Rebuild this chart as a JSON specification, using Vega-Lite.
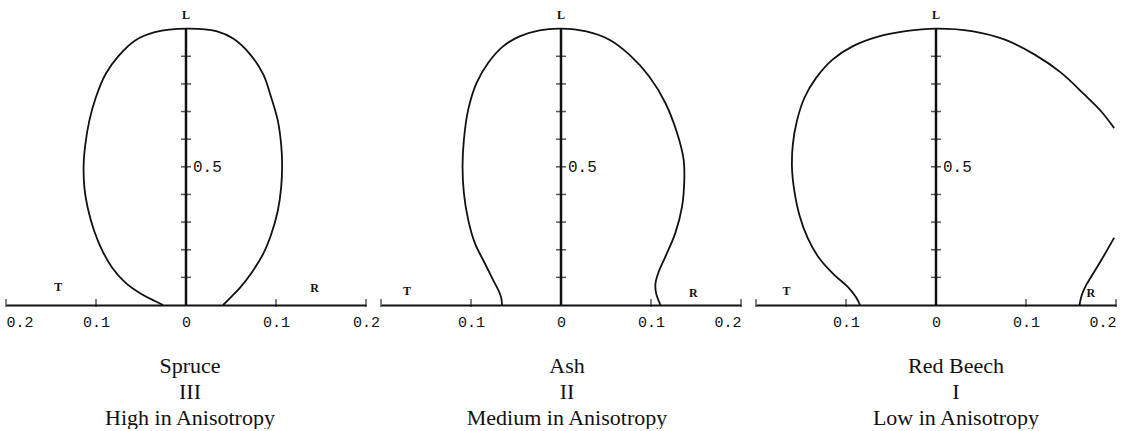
{
  "$schema": "https://vega.github.io/schema/vega-lite/v6.json",
  "background": "white",
  "padding": {"left": 5, "top": 1, "right": 0, "bottom": 0},
  "bounds": "flush",
  "spacing": 15,
  "config": {
    "view": {"stroke": null},
    "title": {"font": "Liberation Serif", "fontSize": 22, "fontWeight": "normal", "color": "#111", "lineHeight": 26, "orient": "bottom", "anchor": "middle", "offset": 27},
    "axis": {"grid": false, "title": null}
  },
  "datasets": {
    "curves": [
      {"wood": "Spruce", "seg": 1, "i": 0, "x": -0.0255, "y": 0},
      {"wood": "Spruce", "seg": 1, "i": 1, "x": -0.0346, "y": 0.0145},
      {"wood": "Spruce", "seg": 1, "i": 2, "x": -0.0492, "y": 0.039},
      {"wood": "Spruce", "seg": 1, "i": 3, "x": -0.0674, "y": 0.081},
      {"wood": "Spruce", "seg": 1, "i": 4, "x": -0.082, "y": 0.135},
      {"wood": "Spruce", "seg": 1, "i": 5, "x": -0.0929, "y": 0.196},
      {"wood": "Spruce", "seg": 1, "i": 6, "x": -0.102, "y": 0.268},
      {"wood": "Spruce", "seg": 1, "i": 7, "x": -0.1093, "y": 0.353},
      {"wood": "Spruce", "seg": 1, "i": 8, "x": -0.1129, "y": 0.425},
      {"wood": "Spruce", "seg": 1, "i": 9, "x": -0.1137, "y": 0.51},
      {"wood": "Spruce", "seg": 1, "i": 10, "x": -0.1118, "y": 0.582},
      {"wood": "Spruce", "seg": 1, "i": 11, "x": -0.1074, "y": 0.667},
      {"wood": "Spruce", "seg": 1, "i": 12, "x": -0.1002, "y": 0.751},
      {"wood": "Spruce", "seg": 1, "i": 13, "x": -0.0893, "y": 0.836},
      {"wood": "Spruce", "seg": 1, "i": 14, "x": -0.0746, "y": 0.902},
      {"wood": "Spruce", "seg": 1, "i": 15, "x": -0.0565, "y": 0.957},
      {"wood": "Spruce", "seg": 1, "i": 16, "x": -0.0346, "y": 0.987},
      {"wood": "Spruce", "seg": 1, "i": 17, "x": 0.001, "y": 1.0},
      {"wood": "Spruce", "seg": 1, "i": 18, "x": 0.0346, "y": 0.99},
      {"wood": "Spruce", "seg": 1, "i": 19, "x": 0.0528, "y": 0.963},
      {"wood": "Spruce", "seg": 1, "i": 20, "x": 0.071, "y": 0.908},
      {"wood": "Spruce", "seg": 1, "i": 21, "x": 0.0856, "y": 0.836},
      {"wood": "Spruce", "seg": 1, "i": 22, "x": 0.0947, "y": 0.751},
      {"wood": "Spruce", "seg": 1, "i": 23, "x": 0.102, "y": 0.667},
      {"wood": "Spruce", "seg": 1, "i": 24, "x": 0.1057, "y": 0.582},
      {"wood": "Spruce", "seg": 1, "i": 25, "x": 0.1068, "y": 0.51},
      {"wood": "Spruce", "seg": 1, "i": 26, "x": 0.1057, "y": 0.425},
      {"wood": "Spruce", "seg": 1, "i": 27, "x": 0.102, "y": 0.341},
      {"wood": "Spruce", "seg": 1, "i": 28, "x": 0.0947, "y": 0.256},
      {"wood": "Spruce", "seg": 1, "i": 29, "x": 0.0856, "y": 0.184},
      {"wood": "Spruce", "seg": 1, "i": 30, "x": 0.0729, "y": 0.117},
      {"wood": "Spruce", "seg": 1, "i": 31, "x": 0.0601, "y": 0.063},
      {"wood": "Spruce", "seg": 1, "i": 32, "x": 0.0492, "y": 0.026},
      {"wood": "Spruce", "seg": 1, "i": 33, "x": 0.0412, "y": 0},

      {"wood": "Ash", "seg": 1, "i": 0, "x": -0.0655, "y": 0},
      {"wood": "Ash", "seg": 1, "i": 1, "x": -0.0663, "y": 0.024},
      {"wood": "Ash", "seg": 1, "i": 2, "x": -0.0688, "y": 0.048},
      {"wood": "Ash", "seg": 1, "i": 3, "x": -0.0755, "y": 0.0906},
      {"wood": "Ash", "seg": 1, "i": 4, "x": -0.0847, "y": 0.151},
      {"wood": "Ash", "seg": 1, "i": 5, "x": -0.0957, "y": 0.224},
      {"wood": "Ash", "seg": 1, "i": 6, "x": -0.1031, "y": 0.308},
      {"wood": "Ash", "seg": 1, "i": 7, "x": -0.1079, "y": 0.405},
      {"wood": "Ash", "seg": 1, "i": 8, "x": -0.1094, "y": 0.501},
      {"wood": "Ash", "seg": 1, "i": 9, "x": -0.1079, "y": 0.598},
      {"wood": "Ash", "seg": 1, "i": 10, "x": -0.1031, "y": 0.707},
      {"wood": "Ash", "seg": 1, "i": 11, "x": -0.0939, "y": 0.803},
      {"wood": "Ash", "seg": 1, "i": 12, "x": -0.081, "y": 0.876},
      {"wood": "Ash", "seg": 1, "i": 13, "x": -0.0644, "y": 0.936},
      {"wood": "Ash", "seg": 1, "i": 14, "x": -0.046, "y": 0.972},
      {"wood": "Ash", "seg": 1, "i": 15, "x": -0.0239, "y": 0.994},
      {"wood": "Ash", "seg": 1, "i": 16, "x": 0.0, "y": 1.0},
      {"wood": "Ash", "seg": 1, "i": 17, "x": 0.0281, "y": 0.99},
      {"wood": "Ash", "seg": 1, "i": 18, "x": 0.0538, "y": 0.96},
      {"wood": "Ash", "seg": 1, "i": 19, "x": 0.0759, "y": 0.906},
      {"wood": "Ash", "seg": 1, "i": 20, "x": 0.098, "y": 0.827},
      {"wood": "Ash", "seg": 1, "i": 21, "x": 0.116, "y": 0.731},
      {"wood": "Ash", "seg": 1, "i": 22, "x": 0.129, "y": 0.622},
      {"wood": "Ash", "seg": 1, "i": 23, "x": 0.1363, "y": 0.525},
      {"wood": "Ash", "seg": 1, "i": 24, "x": 0.137, "y": 0.453},
      {"wood": "Ash", "seg": 1, "i": 25, "x": 0.1345, "y": 0.356},
      {"wood": "Ash", "seg": 1, "i": 26, "x": 0.127, "y": 0.26},
      {"wood": "Ash", "seg": 1, "i": 27, "x": 0.116, "y": 0.175},
      {"wood": "Ash", "seg": 1, "i": 28, "x": 0.1087, "y": 0.121},
      {"wood": "Ash", "seg": 1, "i": 29, "x": 0.105, "y": 0.0786},
      {"wood": "Ash", "seg": 1, "i": 30, "x": 0.1057, "y": 0.042},
      {"wood": "Ash", "seg": 1, "i": 31, "x": 0.1105, "y": 0},

      {"wood": "Red Beech", "seg": 1, "i": 0, "x": -0.0844, "y": 0},
      {"wood": "Red Beech", "seg": 1, "i": 1, "x": -0.0892, "y": 0.03},
      {"wood": "Red Beech", "seg": 1, "i": 2, "x": -0.0983, "y": 0.0667},
      {"wood": "Red Beech", "seg": 1, "i": 3, "x": -0.1131, "y": 0.109},
      {"wood": "Red Beech", "seg": 1, "i": 4, "x": -0.1297, "y": 0.169},
      {"wood": "Red Beech", "seg": 1, "i": 5, "x": -0.1425, "y": 0.242},
      {"wood": "Red Beech", "seg": 1, "i": 6, "x": -0.1518, "y": 0.326},
      {"wood": "Red Beech", "seg": 1, "i": 7, "x": -0.1573, "y": 0.411},
      {"wood": "Red Beech", "seg": 1, "i": 8, "x": -0.16, "y": 0.495},
      {"wood": "Red Beech", "seg": 1, "i": 9, "x": -0.1591, "y": 0.58},
      {"wood": "Red Beech", "seg": 1, "i": 10, "x": -0.1547, "y": 0.664},
      {"wood": "Red Beech", "seg": 1, "i": 11, "x": -0.1463, "y": 0.749},
      {"wood": "Red Beech", "seg": 1, "i": 12, "x": -0.1334, "y": 0.821},
      {"wood": "Red Beech", "seg": 1, "i": 13, "x": -0.115, "y": 0.888},
      {"wood": "Red Beech", "seg": 1, "i": 14, "x": -0.0928, "y": 0.936},
      {"wood": "Red Beech", "seg": 1, "i": 15, "x": -0.0634, "y": 0.972},
      {"wood": "Red Beech", "seg": 1, "i": 16, "x": -0.0339, "y": 0.991},
      {"wood": "Red Beech", "seg": 1, "i": 17, "x": 0.0, "y": 1.0},
      {"wood": "Red Beech", "seg": 1, "i": 18, "x": 0.0398, "y": 0.991},
      {"wood": "Red Beech", "seg": 1, "i": 19, "x": 0.0766, "y": 0.96},
      {"wood": "Red Beech", "seg": 1, "i": 20, "x": 0.1097, "y": 0.906},
      {"wood": "Red Beech", "seg": 1, "i": 21, "x": 0.1392, "y": 0.84},
      {"wood": "Red Beech", "seg": 1, "i": 22, "x": 0.165, "y": 0.761},
      {"wood": "Red Beech", "seg": 1, "i": 23, "x": 0.1834, "y": 0.701},
      {"wood": "Red Beech", "seg": 1, "i": 24, "x": 0.198, "y": 0.64},
      {"wood": "Red Beech", "seg": 2, "i": 0, "x": 0.1594, "y": 0},
      {"wood": "Red Beech", "seg": 2, "i": 1, "x": 0.162, "y": 0.036},
      {"wood": "Red Beech", "seg": 2, "i": 2, "x": 0.1668, "y": 0.072},
      {"wood": "Red Beech", "seg": 2, "i": 3, "x": 0.176, "y": 0.121},
      {"wood": "Red Beech", "seg": 2, "i": 4, "x": 0.187, "y": 0.181},
      {"wood": "Red Beech", "seg": 2, "i": 5, "x": 0.198, "y": 0.244}
    ],
    "stem": [{"x": 0, "y": 0}, {"x": 0, "y": 1}],
    "stemTicks": [
      {"x": 0, "y": 0.1}, {"x": 0, "y": 0.2}, {"x": 0, "y": 0.3}, {"x": 0, "y": 0.4}, {"x": 0, "y": 0.5},
      {"x": 0, "y": 0.6}, {"x": 0, "y": 0.7}, {"x": 0, "y": 0.8}, {"x": 0, "y": 0.9}
    ],
    "baseTicks": [{"x": -0.2, "y": 0}, {"x": -0.1, "y": 0}, {"x": 0.1, "y": 0}, {"x": 0.2, "y": 0}],
    "stemLabels": [{"x": 0, "y": 0.5, "text": "0.5"}],
    "directions": [
      {"wood": "Spruce", "text": "T", "x": -0.142, "y": 0.065},
      {"wood": "Spruce", "text": "R", "x": 0.143, "y": 0.06},
      {"wood": "Spruce", "text": "L", "x": 0.0, "y": 1.05},
      {"wood": "Ash", "text": "T", "x": -0.171, "y": 0.05},
      {"wood": "Ash", "text": "R", "x": 0.147, "y": 0.045},
      {"wood": "Ash", "text": "L", "x": 0.0, "y": 1.05},
      {"wood": "Red Beech", "text": "T", "x": -0.166, "y": 0.05},
      {"wood": "Red Beech", "text": "R", "x": 0.172, "y": 0.043},
      {"wood": "Red Beech", "text": "L", "x": 0.0, "y": 1.05}
    ]
  },
  "hconcat": [
    {
      "width": 360, "height": 304,
      "title": {"text": ["Spruce", "III", "High in Anisotropy"], "dx": 4},
      "encoding": {
        "x": {"field": "x", "type": "quantitative", "scale": {"domain": [-0.2, 0.2], "nice": false},
          "axis": {"values": [-0.2, -0.1, 0, 0.1, 0.2], "labelExpr": "datum.value == 0 ? '0' : format(abs(datum.value), '.1f')",
            "ticks": false, "domainColor": "#111", "domainWidth": 2, "labelFont": "Liberation Mono", "labelFontSize": 15, "labelColor": "#111", "labelPadding": 9,
            "labelAlign": {"condition": {"test": "datum.value < -0.15", "value": "left"}, "value": "center"}}},
        "y": {"field": "y", "type": "quantitative", "scale": {"domain": [0, 1.1], "nice": false}, "axis": null}
      },
      "layer": [
        {"data": {"name": "baseTicks"}, "mark": {"type": "tick", "orient": "vertical", "size": 8, "thickness": 1.5, "color": "#111", "yOffset": -2}},
        {"data": {"name": "stem"}, "mark": {"type": "line", "color": "#111", "strokeWidth": 2.5}},
        {"data": {"name": "stemTicks"}, "mark": {"type": "tick", "orient": "horizontal", "size": 10, "thickness": 1.5, "color": "#111"}},
        {"data": {"name": "stemLabels"}, "mark": {"type": "text", "align": "left", "baseline": "middle", "dx": 7, "font": "Liberation Mono", "fontSize": 16, "color": "#111"}, "encoding": {"text": {"field": "text"}}},
        {"data": {"name": "directions"}, "transform": [{"filter": "datum.wood == 'Spruce'"}], "mark": {"type": "text", "baseline": "middle", "font": "Liberation Serif", "fontSize": 12, "fontWeight": "bold", "color": "#111"}, "encoding": {"text": {"field": "text"}}},
        {"data": {"name": "curves"}, "transform": [{"filter": "datum.wood == 'Spruce'"}], "mark": {"type": "line", "interpolate": "catmull-rom", "color": "#111", "strokeWidth": 1.8}, "encoding": {"order": {"field": "i"}, "detail": {"field": "seg"}}}
      ]
    },
    {
      "width": 360, "height": 304,
      "title": {"text": ["Ash", "II", "Medium in Anisotropy"], "dx": 6},
      "encoding": {
        "x": {"field": "x", "type": "quantitative", "scale": {"domain": [-0.2, 0.2], "nice": false},
          "axis": {"values": [-0.1, 0, 0.1, 0.2], "labelExpr": "datum.value == 0 ? '0' : format(abs(datum.value), '.1f')",
            "ticks": false, "domainColor": "#111", "domainWidth": 2, "labelFont": "Liberation Mono", "labelFontSize": 15, "labelColor": "#111", "labelPadding": 9}},
        "y": {"field": "y", "type": "quantitative", "scale": {"domain": [0, 1.1], "nice": false}, "axis": null}
      },
      "layer": [
        {"data": {"name": "baseTicks"}, "mark": {"type": "tick", "orient": "vertical", "size": 8, "thickness": 1.5, "color": "#111", "yOffset": -2}},
        {"data": {"name": "stem"}, "mark": {"type": "line", "color": "#111", "strokeWidth": 2.5}},
        {"data": {"name": "stemTicks"}, "mark": {"type": "tick", "orient": "horizontal", "size": 10, "thickness": 1.5, "color": "#111"}},
        {"data": {"name": "stemLabels"}, "mark": {"type": "text", "align": "left", "baseline": "middle", "dx": 7, "font": "Liberation Mono", "fontSize": 16, "color": "#111"}, "encoding": {"text": {"field": "text"}}},
        {"data": {"name": "directions"}, "transform": [{"filter": "datum.wood == 'Ash'"}], "mark": {"type": "text", "baseline": "middle", "font": "Liberation Serif", "fontSize": 12, "fontWeight": "bold", "color": "#111"}, "encoding": {"text": {"field": "text"}}},
        {"data": {"name": "curves"}, "transform": [{"filter": "datum.wood == 'Ash'"}], "mark": {"type": "line", "interpolate": "catmull-rom", "color": "#111", "strokeWidth": 1.8}, "encoding": {"order": {"field": "i"}, "detail": {"field": "seg"}}}
      ]
    },
    {
      "width": 360, "height": 304,
      "title": {"text": ["Red Beech", "I", "Low in Anisotropy"], "dx": 20},
      "encoding": {
        "x": {"field": "x", "type": "quantitative", "scale": {"domain": [-0.2, 0.2], "nice": false},
          "axis": {"values": [-0.1, 0, 0.1, 0.2], "labelExpr": "datum.value == 0 ? '0' : format(abs(datum.value), '.1f')",
            "ticks": false, "domainColor": "#111", "domainWidth": 2, "labelFont": "Liberation Mono", "labelFontSize": 15, "labelColor": "#111", "labelPadding": 9}},
        "y": {"field": "y", "type": "quantitative", "scale": {"domain": [0, 1.1], "nice": false}, "axis": null}
      },
      "layer": [
        {"data": {"name": "baseTicks"}, "mark": {"type": "tick", "orient": "vertical", "size": 8, "thickness": 1.5, "color": "#111", "yOffset": -2}},
        {"data": {"name": "stem"}, "mark": {"type": "line", "color": "#111", "strokeWidth": 2.5}},
        {"data": {"name": "stemTicks"}, "mark": {"type": "tick", "orient": "horizontal", "size": 10, "thickness": 1.5, "color": "#111"}},
        {"data": {"name": "stemLabels"}, "mark": {"type": "text", "align": "left", "baseline": "middle", "dx": 7, "font": "Liberation Mono", "fontSize": 16, "color": "#111"}, "encoding": {"text": {"field": "text"}}},
        {"data": {"name": "directions"}, "transform": [{"filter": "datum.wood == 'Red Beech'"}], "mark": {"type": "text", "baseline": "middle", "font": "Liberation Serif", "fontSize": 12, "fontWeight": "bold", "color": "#111"}, "encoding": {"text": {"field": "text"}}},
        {"data": {"name": "curves"}, "transform": [{"filter": "datum.wood == 'Red Beech'"}], "mark": {"type": "line", "interpolate": "catmull-rom", "color": "#111", "strokeWidth": 1.8}, "encoding": {"order": {"field": "i"}, "detail": {"field": "seg"}}}
      ]
    }
  ]
}
